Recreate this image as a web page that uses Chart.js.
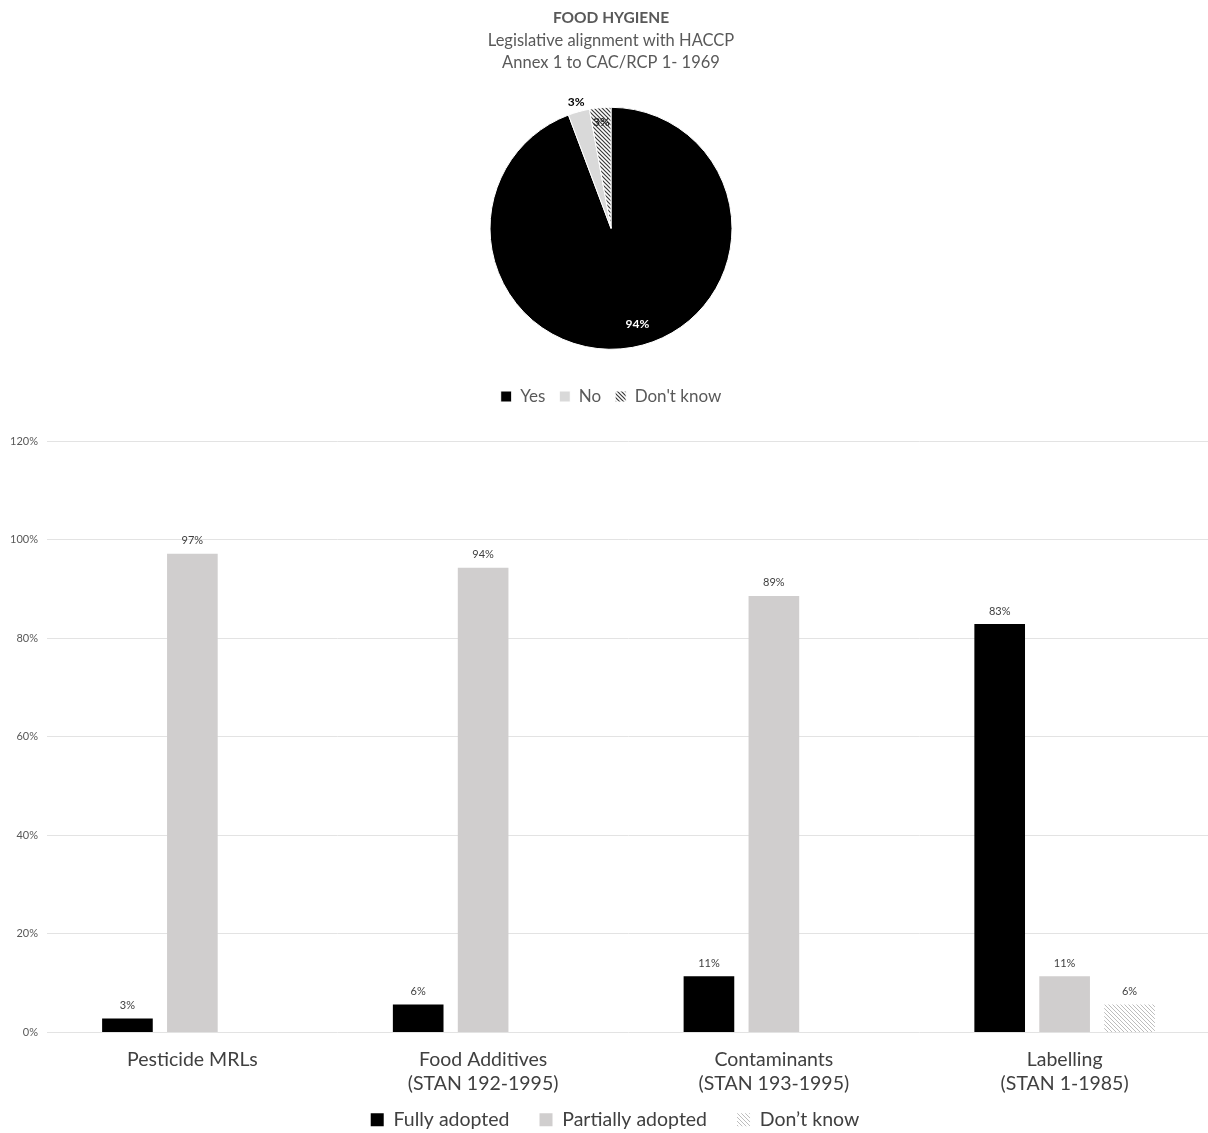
<!DOCTYPE html>
<html>
<head>
<meta charset="utf-8">
<script src="https://cdn.jsdelivr.net/npm/chart.js@4/dist/chart.umd.min.js"></script>
<style>
  body { margin: 0; background: #fff; width: 1208px; height: 1133px; position: relative; overflow: hidden; }
  #pieBox { position: absolute; left: 14px; top: 0; width: 1194px; height: 415px; }
  #barBox { position: absolute; left: 0; top: 420px; width: 1210px; height: 750px; }
</style>
</head>
<body>
<div id="pieBox"><canvas id="pieChart"></canvas></div>
<div id="barBox"><canvas id="barChart"></canvas></div>
<script>
// pie : food hygiene, n = 35
const pieLabels = ["Yes", "No", "Don't know"];
const pieValues = [94.29, 2.86, 2.86];

// bars : adoption of Codex standards
const barCategories = [
  ["Pesticide MRLs"],
  ["Food Additives", "(STAN 192-1995)"],
  ["Contaminants", "(STAN 193-1995)"],
  ["Labelling", "(STAN 1-1985)"]
];
const seriesNames = ["Fully adopted", "Partially adopted", "Don’t know"];
const fullyAdopted = [2.86, 5.71, 11.43, 82.86];
const partiallyAdopted = [97.14, 94.29, 88.57, 11.43];
const dontKnow = [null, null, null, 5.71];
const yTickValues = [0, 20, 40, 60, 80, 100, 120];

Chart.defaults.font.family = "Lato, 'Open Sans', sans-serif";
Chart.defaults.color = "#595959";

function hatch(lineColor, bg, size, width) {
  const c = document.createElement("canvas");
  c.width = size; c.height = size;
  const g = c.getContext("2d");
  g.fillStyle = bg;
  g.fillRect(0, 0, size, size);
  g.strokeStyle = lineColor;
  g.lineWidth = width;
  g.beginPath();
  g.moveTo(-1, -1); g.lineTo(size + 1, size + 1);
  g.moveTo(-1, size - 1); g.lineTo(1, size + 1);
  g.moveTo(size - 1, -1); g.lineTo(size + 1, 1);
  g.stroke();
  return g.createPattern(c, "repeat");
}

const pieHatch = hatch("#3a3a3a", "#ffffff", 4, 1.2);
const barHatch = hatch("#bdbdbd", "#ffffff", 4, 1);

// labels on the pie slices
const pieLabelDist = [0.82, 1.08, 0.88];
const pieLabelTurn = [-0.09, 0, 0];
const pieLabelColor = ["#ffffff", "#000000", "#262626"];
const pieLabelPlugin = {
  id: "pieLabels",
  afterDatasetsDraw(chart) {
    const ctx = chart.ctx;
    const meta = chart.getDatasetMeta(0);
    ctx.save();
    ctx.font = "bold 12px Lato, sans-serif";
    ctx.textAlign = "center";
    ctx.textBaseline = "middle";
    meta.data.forEach((arc, i) => {
      const mid = (arc.startAngle + arc.endAngle) / 2 + pieLabelTurn[i];
      const r = arc.outerRadius * pieLabelDist[i];
      ctx.fillStyle = pieLabelColor[i];
      ctx.fillText(Math.round(pieValues[i]) + "%", arc.x + Math.cos(mid) * r, arc.y + Math.sin(mid) * r);
    });
    ctx.restore();
  }
};

new Chart(document.getElementById("pieChart"), {
  type: "pie",
  data: {
    labels: pieLabels,
    datasets: [{
      data: pieValues,
      backgroundColor: ["#000000", "#d9d9d9", pieHatch],
      borderColor: "#ffffff",
      borderWidth: 1
    }]
  },
  options: {
    responsive: true,
    maintainAspectRatio: false,
    animation: false,
    radius: 121,
    layout: { padding: 0 },
    plugins: {
      title: {
        display: true,
        text: "FOOD HYGIENE",
        font: { size: 15.5, weight: "bold" },
        color: "#595959",
        padding: { top: 9, bottom: 2 }
      },
      subtitle: {
        display: true,
        text: ["Legislative alignment with HACCP", "Annex 1 to CAC/RCP 1- 1969"],
        font: { size: 16.5, lineHeight: 1.333 },
        color: "#595959",
        padding: { top: 0, bottom: 9 }
      },
      legend: {
        position: "bottom",
        labels: { font: { size: 17 }, color: "#595959", boxWidth: 11, boxHeight: 11, padding: 14 }
      },
      tooltip: { enabled: false }
    }
  },
  plugins: [pieLabelPlugin]
});

// value labels above bars
const barLabelPlugin = {
  id: "barLabels",
  afterDatasetsDraw(chart) {
    const ctx = chart.ctx;
    ctx.save();
    ctx.font = "11px Lato, sans-serif";
    ctx.fillStyle = "#404040";
    ctx.textAlign = "center";
    ctx.textBaseline = "middle";
    chart.data.datasets.forEach((ds, di) => {
      chart.getDatasetMeta(di).data.forEach((bar, i) => {
        const v = ds.data[i];
        if (v == null) return;
        ctx.fillText(Math.round(v) + "%", bar.x, bar.y - 13);
      });
    });
    ctx.restore();
  }
};

// pull the legend up closer to the category labels
const legendLift = {
  id: "legendLift",
  afterLayout(chart) {
    const lg = chart.legend;
    lg.top -= 30.5;
    lg.bottom -= 30.5;
    lg.left += 10;
    lg.right += 10;
  }
};

new Chart(document.getElementById("barChart"), {
  type: "bar",
  data: {
    labels: barCategories,
    datasets: [
      { label: seriesNames[0], data: fullyAdopted, backgroundColor: "#000000", borderWidth: 0 },
      { label: seriesNames[1], data: partiallyAdopted, backgroundColor: "#d0cece", borderWidth: 0 },
      { label: seriesNames[2], data: dontKnow, backgroundColor: barHatch, borderWidth: 0 }
    ]
  },
  options: {
    responsive: true,
    maintainAspectRatio: false,
    animation: false,
    layout: { padding: { top: 21, right: 0, left: 0, bottom: 0 } },
    datasets: { bar: { categoryPercentage: 0.67, barPercentage: 0.78 } },
    scales: {
      x: {
        grid: { display: false, drawTicks: false },
        border: { display: false },
        ticks: { font: { size: 19.5, lineHeight: 1.23 }, color: "#404040", padding: 15 }
      },
      y: {
        min: 0,
        max: 120,
        afterBuildTicks(scale) { scale.ticks = yTickValues.map(v => ({ value: v })); },
        afterFit(scale) { scale.width = 47; },
        ticks: { callback: v => v + "%", font: { size: 11 }, color: "#595959", padding: 9 },
        grid: { color: "#e3e3e3", drawTicks: false },
        border: { display: false }
      }
    },
    plugins: {
      legend: {
        position: "bottom",
        labels: { font: { size: 19.5 }, color: "#404040", boxWidth: 13, boxHeight: 13, padding: 30 }
      },
      tooltip: { enabled: false }
    }
  },
  plugins: [barLabelPlugin, legendLift]
});
</script>
</body>
</html>
